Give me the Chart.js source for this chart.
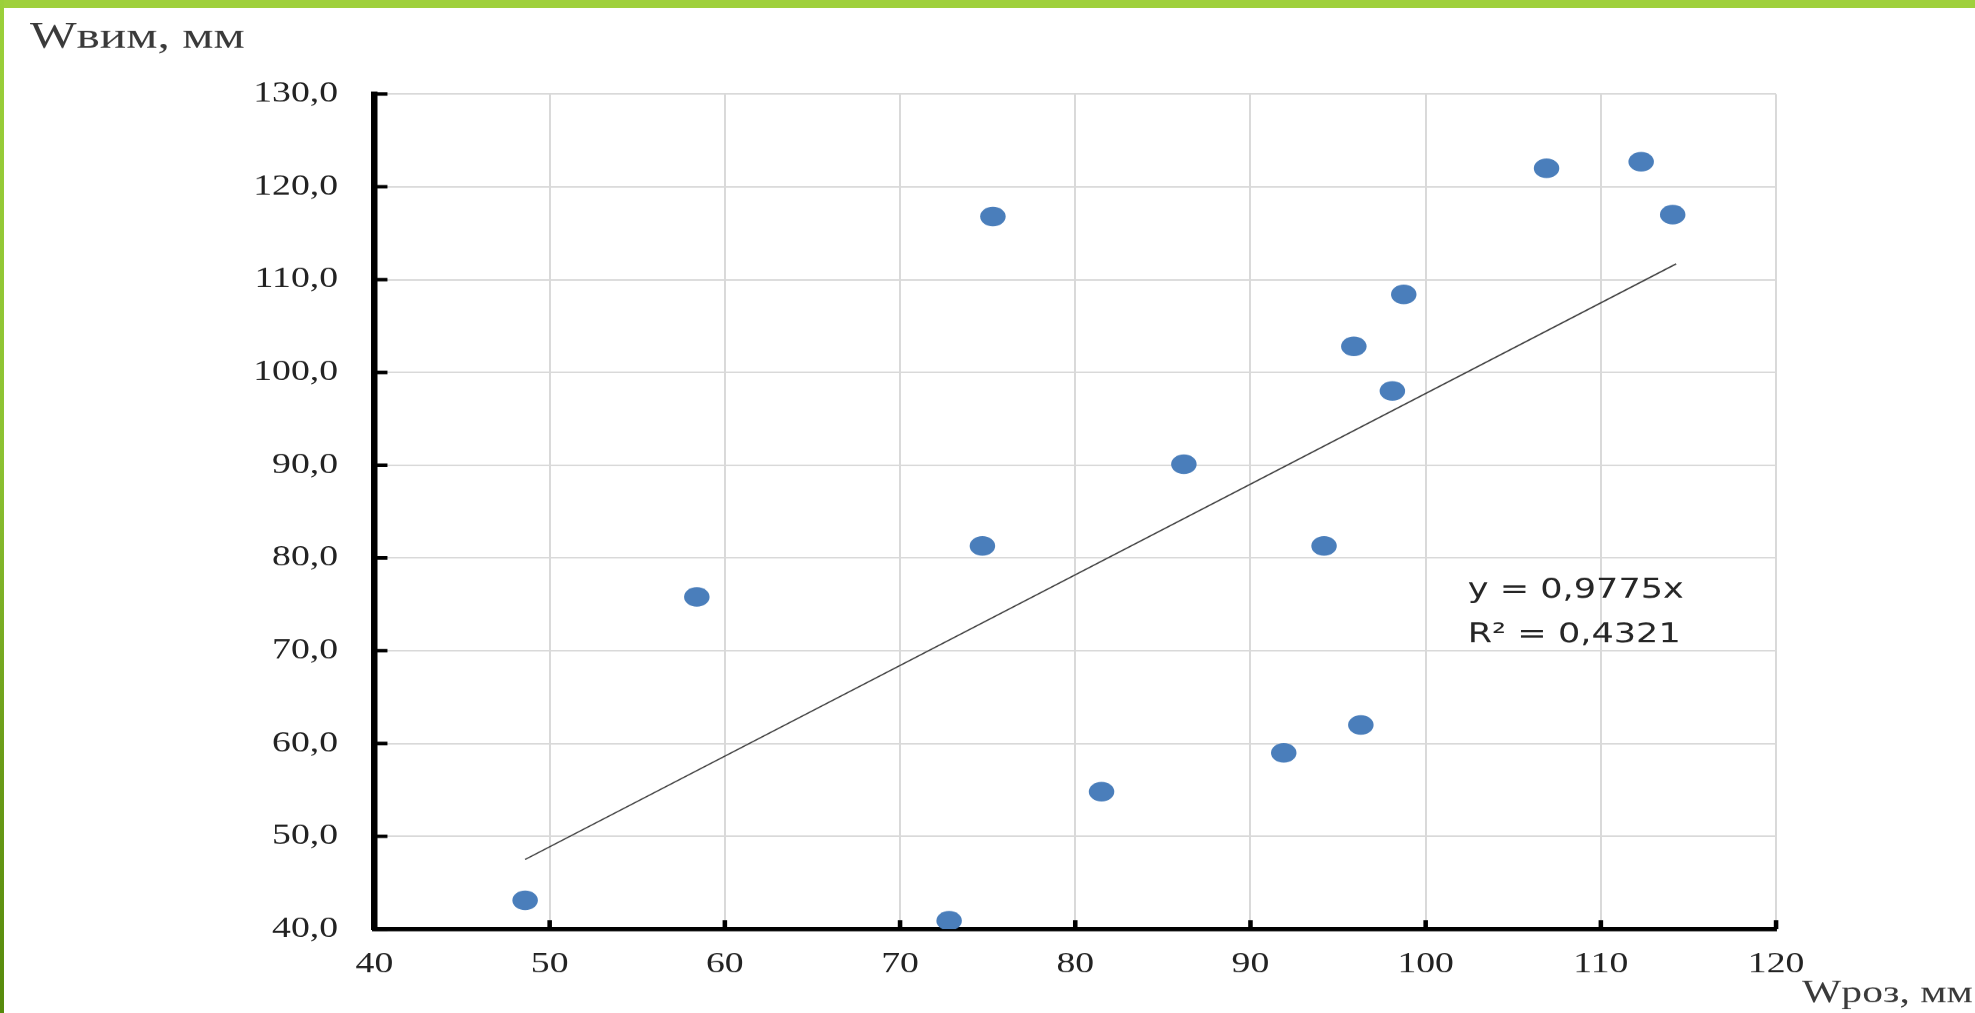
<!DOCTYPE html>
<html>
<head>
<meta charset="utf-8">
<script src="https://cdn.jsdelivr.net/npm/chart.js@4.4.1/dist/chart.umd.min.js"></script>
<style>
html, body { margin: 0; padding: 0; background: #fff; overflow: hidden; }
#topBar { position: absolute; left: 0; top: 0; width: 1975px; height: 8px; background: #9fd03c; z-index: 2; }
#leftBar { position: absolute; left: 0; top: 0; width: 4px; height: 1013px; z-index: 2;
           background: linear-gradient(to bottom, #9bd03a 0%, #8cc232 45%, #6a9c18 75%, #568a0c 100%); }
#chart { position: absolute; left: 0; top: 0; }
</style>
</head>
<body>
<div id="topBar"></div>
<div id="leftBar"></div>
<canvas id="chart" width="1519" height="1013" style="width:1975px;height:1013px"></canvas>
<script>
// 数据
const pointsX = [48.6, 58.4, 72.8, 74.7, 75.3, 81.5, 86.2, 91.9, 94.2, 95.9, 96.3, 98.1, 98.75, 106.9, 112.3, 114.1];
const pointsY = [43.1, 75.8, 40.9, 81.3, 116.8, 54.8, 90.1, 59.0, 81.3, 102.8, 62.0, 98.0, 108.4, 122.0, 122.7, 117.0];
const trendX = [48.6, 114.3];
const trendY = [47.5, 111.7];
const xTicks = [40, 50, 60, 70, 80, 90, 100, 110, 120];
const yTicks = [40, 50, 60, 70, 80, 90, 100, 110, 120, 130];
const equationLines = ['y = 0,9775x', 'R² = 0,4321'];
const yTitle = 'Wвим, мм';
const xTitle = 'Wроз, мм';

// 画布横向拉伸 (原图被横向拉伸)
const STRETCH = 1975 / 1519;

// 自定义绘制: 内侧刻度, 公式, 轴标题
const decorPlugin = {
    id: 'decor',
    afterDraw(chart) {
        const ctx = chart.ctx;
        const area = chart.chartArea;
        const xs = chart.scales.x;
        const ys = chart.scales.y;
        ctx.save();

        // 内侧刻度线
        ctx.strokeStyle = '#000';
        ctx.lineWidth = 3.5;
        ctx.beginPath();
        yTicks.forEach(v => {
            const py = ys.getPixelForValue(v);
            ctx.moveTo(area.left, py);
            ctx.lineTo(area.left + 10, py);
        });
        xTicks.forEach(v => {
            const px = xs.getPixelForValue(v);
            ctx.moveTo(px, area.bottom);
            ctx.lineTo(px, area.bottom - 9);
        });
        ctx.stroke();

        // 趋势线公式
        ctx.fillStyle = '#262626';
        ctx.font = '27px "DejaVu Sans"';
        ctx.textAlign = 'left';
        ctx.textBaseline = 'middle';
        ctx.fillText(equationLines[0], xs.getPixelForValue(102.4), ys.getPixelForValue(76.5));
        ctx.fillText(equationLines[1], xs.getPixelForValue(102.4), ys.getPixelForValue(71.7));

        // 轴标题
        ctx.fillStyle = '#3a3a3a';
        ctx.textBaseline = 'alphabetic';
        ctx.font = '38px "Liberation Serif"';
        ctx.fillText(yTitle, 23, 48);
        ctx.font = '32px "Liberation Serif"';
        ctx.fillText(xTitle, area.right + 20, 1002);

        ctx.restore();
    }
};

const tickFont = { family: '"Liberation Serif"', size: 29 };

new Chart(document.getElementById('chart'), {
    type: 'scatter',
    data: {
        datasets: [
            {
                type: 'line',
                data: trendX.map((x, i) => ({ x: x, y: trendY[i] })),
                borderColor: '#404040',
                borderWidth: 1.3,
                pointRadius: 0,
                fill: false,
                order: 0
            },
            {
                data: pointsX.map((x, i) => ({ x: x, y: pointsY[i] })),
                backgroundColor: '#4a7ebb',
                borderWidth: 0,
                pointRadius: 9.8,
                order: 1
            }
        ]
    },
    options: {
        responsive: false,
        devicePixelRatio: STRETCH,
        animation: false,
        layout: {
            padding: { left: 0, top: 94, right: 153, bottom: 0 }
        },
        plugins: {
            legend: { display: false },
            tooltip: { enabled: false }
        },
        scales: {
            x: {
                type: 'linear',
                min: xTicks[0],
                max: xTicks[xTicks.length - 1],
                afterBuildTicks: s => { s.ticks = xTicks.map(v => ({ value: v })); },
                afterFit: s => { s.height = 84; },
                grid: { color: '#d9d9d9', lineWidth: 1.5, drawTicks: false },
                border: { color: '#000', width: 4.5 },
                ticks: {
                    font: tickFont,
                    color: '#222',
                    padding: 18,
                    maxRotation: 0,
                    callback: v => String(v)
                }
            },
            y: {
                type: 'linear',
                min: yTicks[0],
                max: yTicks[yTicks.length - 1],
                afterBuildTicks: s => { s.ticks = yTicks.map(v => ({ value: v })); },
                afterFit: s => { s.width = 288; },
                grid: { color: '#d9d9d9', lineWidth: 1.5, drawTicks: false },
                border: { color: '#000', width: 5 },
                ticks: {
                    font: tickFont,
                    color: '#222',
                    padding: 28,
                    callback: v => v.toFixed(1).replace('.', ',')
                }
            }
        }
    },
    plugins: [decorPlugin]
});
</script>
</body>
</html>
